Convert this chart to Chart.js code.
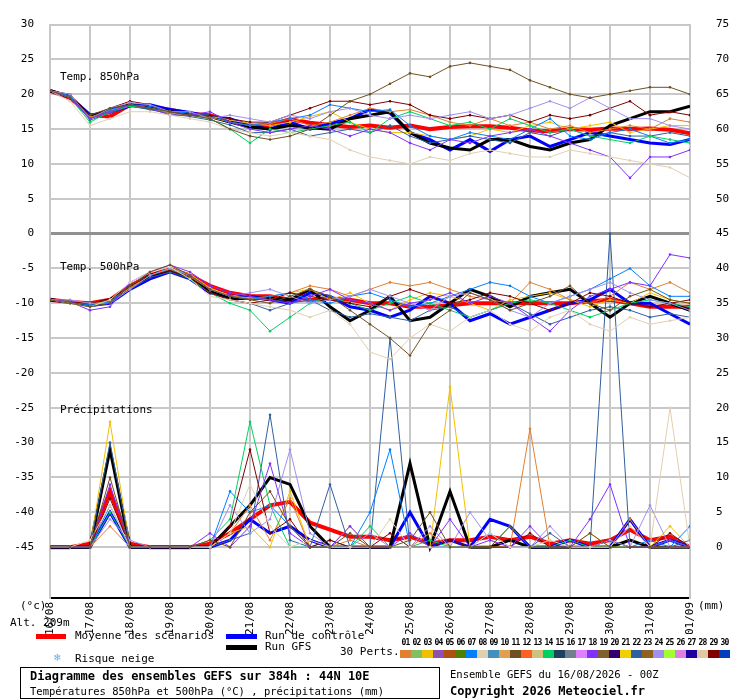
<!DOCTYPE html>
<html><head><meta charset="utf-8">
<script src="https://cdn.jsdelivr.net/npm/chart.js@4"></script>
<style>
body{margin:0;background:#fff;font-family:"DejaVu Sans Mono",monospace;font-size:11px;color:#000}
#wrap{position:relative;width:740px;height:700px}
canvas{position:absolute;left:0;top:0}
.t{position:absolute;white-space:nowrap}
.bar{position:absolute;height:5px}
.sw{display:inline-block;width:11px;height:8px}
.nm{display:inline-block;width:11px;text-align:center;letter-spacing:-0.8px}
</style></head><body>
<div id="wrap">
<canvas id="c" width="740" height="634"></canvas>
<div class="t" style="left:60px;top:70px">Temp. 850hPa</div>
<div class="t" style="left:60px;top:260px">Temp. 500hPa</div>
<div class="t" style="left:60px;top:403px">Précipitations</div>
<div class="t" style="left:20px;top:599px">(°c)</div>
<div class="t" style="left:698px;top:599px">(mm)</div>
<div class="t" style="left:10px;top:616px">Alt. 209m</div>
<div class="bar" style="left:36px;top:634px;width:30px;background:#ff0000"></div>
<div class="t" style="left:75px;top:629px">Moyenne des scénarios</div>
<div class="bar" style="left:226px;top:634px;width:31px;background:#0000ff"></div>
<div class="t" style="left:265px;top:629px">Run de contrôle</div>
<div class="bar" style="left:226px;top:645px;width:31px;background:#000"></div>
<div class="t" style="left:265px;top:640px">Run GFS</div>
<div class="t" style="left:54px;top:651px;color:#60b0f0">❄</div>
<div class="t" style="left:75px;top:652px">Risque neige</div>
<div class="t" style="left:340px;top:645px">30 Perts.</div>
<div class="t" id="nums" style="left:400px;top:638px;font-size:8px;font-weight:bold"></div>
<div class="t" id="sws" style="left:400px;top:650px;font-size:0"></div>
<div class="t" style="left:20px;top:667px;width:418px;height:30px;border:1px solid #000"></div>
<div class="t" style="left:30px;top:669px;font-weight:bold;font-size:12px">Diagramme des ensembles GEFS sur 384h : 44N 10E</div>
<div class="t" style="left:30px;top:685px;font-size:10.5px">Températures 850hPa et 500hPa (°C) , précipitations (mm)</div>
<div class="t" style="left:450px;top:668px;font-size:10.5px">Ensemble GEFS du 16/08/2026 - 00Z</div>
<div class="t" style="left:450px;top:684px;font-weight:bold;font-size:12px">Copyright 2026 Meteociel.fr</div>
</div>
<script>
const dates = ['16/08','17/08','18/08','19/08','20/08','21/08','22/08','23/08','24/08','25/08','26/08','27/08','28/08','29/08','30/08','31/08','01/09'];
const stepHours = 12;
const pertColors = ['#e08030','#80c060','#f0c000','#9050b0','#b05010','#508000','#0080ff','#e0d0b0','#4090c0','#e0a050',
 '#705020','#ff6020','#d0c080','#00d060','#204060','#708090','#e080ff','#8030ff','#806030','#300070',
 '#f0d000','#3060a0','#906020','#a090f0','#a0ff30','#e080e0','#2000a0','#e0c8a0','#800000','#0040c0'];

const mean850 = [20.5,19.5,17,16.8,18.5,18.2,17.8,17.2,17,16.2,15.5,15.6,16.4,15.9,15.6,15.3,15.5,15.2,15.5,15,15.3,15.4,15.4,15.2,14.8,14.7,15,14.9,15.1,15,15.1,14.9,14.4];
const ctrl850 = [20.5,19.6,17,17.5,18.3,18.5,17.8,17.4,16.8,16.5,15.5,15,16,15,15.8,16.5,17.8,17.3,14.5,13.5,12,13.5,11.8,13.5,14,12.5,13.5,14.5,14,13.5,13,12.8,13.5];
const gfs850 = [20.5,19.7,16.8,17.8,18.5,18,17.5,17.2,16.8,16,15.3,15,15.5,15.2,15,16.5,17,17.5,14.5,13,12.3,12,13.5,13.5,12.5,12,13,13.5,15.5,16.5,17.5,17.5,18.3];
const mean500 = [-9.5,-9.8,-10,-9.5,-7.5,-6,-5.1,-6,-7.5,-8.5,-9,-9,-9.5,-9.5,-9.3,-9.5,-10,-10,-10.5,-10.5,-10.3,-10,-10,-10,-10,-10,-10,-9.7,-9.5,-10,-10.5,-10.5,-10.5];
const ctrl500 = [-9.5,-9.8,-10.3,-10,-8,-6.5,-5.5,-6.5,-8.5,-9,-9,-9.5,-10,-8.5,-9,-10.5,-11,-12,-11,-9,-10,-12.5,-11.5,-13,-12,-11,-10,-9.5,-8,-10,-10,-11.5,-13];
const gfs500 = [-9.5,-9.8,-10.2,-9.5,-7.8,-6,-5.3,-6.3,-8.3,-9.3,-9.3,-9.2,-9.5,-8,-10.5,-12.5,-11,-9,-12.5,-12,-10,-8,-9,-10.5,-9,-8.5,-8,-10,-12,-10,-9,-10,-11];
const meanRain = [0,0,0.5,8,0.5,0,0,0,0.5,2,4,6,6.5,3.5,2.5,1.5,1.5,1,1.5,0.5,1,1,1.5,1,1.5,0.5,1,0.5,1,2.5,1,1.5,0];
const ctrlRain = [0,0,0,5,0,0,0,0,0,1,4,2,3,1,0,0,0,0,5,0,1,0,4,3,0,0,1,0,0,4,0,1,0];
const gfsRain = [0,0,0,14,0,0,0,0,0,3,6,10,9,3,0,0,0,0,12,0,8,0,0,1,0,0,0,0,0,1,0,0,0];

// perturbation members: number, 850, 500, rain
const pertIds = [11,8,18,24,29,14,7,1,22,3];
const pert850 = [
 [20.5,19.5,17,18,18.5,18,17.5,17,16.5,15,14,13.5,14,15,17,19,20,21.5,23,22.5,24,24.5,24,23.5,22,21,20,19.5,20,20.5,21,21,20],
 [20.5,19,15.5,16.5,17.5,17.5,17,16.5,16,15,14.5,14,14.5,14,13.5,12,11,10.5,10,11,10.5,11.5,12,11.5,11,11,12,11.5,11,10.5,10,9.5,8],
 [20.5,19.5,16.5,17.5,18.5,18,17,17,17.5,16,15,14.5,15,15.5,15,14,15,14.5,13,12,13.5,13,14,14.5,15,14,13,12,11,8,11,11,12],
 [20.5,20,16.5,18,18.8,18.5,17.5,17.5,16.5,17,16.5,16,17,16.5,17.5,18,17,16.5,17,16.5,17,17.5,16.5,17,18,19,18,19.5,18,16.5,16.5,15.5,15],
 [20.5,20,16.5,18,19,18.5,17.5,17,17,16.5,16,16,17,18,19,19,18.5,19,18.5,17,16.5,17,16.5,17,16,17,16.5,17,18,19,17,17.5,17],
 [20.5,19.5,16,17.5,18.3,18,17.5,17,16.5,15,13,15,14.5,15,15.5,16,14.5,16.5,17.5,16.5,15.5,16,15,16.5,15.5,14.5,15,14,13.5,13,14,13.5,13],
 [20.5,19.8,16.5,17.8,18.5,18.3,17.5,17.3,17,16,15.5,16,16.5,17,18.5,18,17.5,17.8,15.5,14,13.5,14.5,14,13.5,15,16.5,14,13.5,14.5,15,14,13,13.5],
 [20.5,19.5,16.5,17.5,18.5,18,17.3,17,16.7,16,15.5,15.8,16.5,15.5,16,17,18,17.5,17.8,17,16,15.5,16.5,15.5,16,15,15.5,14.5,15,15.5,15,16.5,16],
 [20.5,19.7,16.3,17.3,18.3,17.8,17.2,16.8,16.3,15.6,14.5,14.5,15,14,14.5,15,14.5,15.5,14,13,13.5,14,13.5,13,14.5,14,15,14,14.5,14,14,14.5,14],
 [20.5,19.6,16.7,17.7,18.5,18,17.4,17,17,16.3,15.8,15.5,16,16.8,17.5,16,15,14.5,14.5,14,13.5,14,15,14.5,15.5,16,15,15.5,16,14.5,15,15.5,15.5]
];
const pert500 = [
 [-9.5,-10,-10.5,-10,-7.5,-5.5,-4.5,-6,-8,-9,-9.5,-10,-9,-8,-9,-11,-13,-15,-17.5,-13,-11,-8.5,-9.5,-11,-10,-9,-7.5,-10,-11,-9,-8,-9.5,-10],
 [-9.5,-10,-10.5,-9.5,-7,-5.5,-4.8,-6.5,-9,-9.5,-10,-10.5,-11,-12,-11,-13,-17,-18,-15,-13,-14,-12,-11,-13,-14,-12,-11,-13,-14,-12,-13,-12.5,-12],
 [-9.5,-9.8,-11,-10.5,-7,-5.5,-4.5,-5.5,-7.5,-8.5,-9,-9.5,-10,-9,-8,-9.5,-10,-11,-10,-9.5,-8.5,-10,-9,-10,-12,-14,-11,-9,-8,-7,-7.5,-3,-3.5],
 [-9.5,-9.5,-10,-10,-8,-6,-5,-6,-8,-9,-8.5,-8,-9,-10,-9.5,-9,-8,-9,-10,-11,-9,-8.5,-9.5,-11,-12,-10,-9,-8,-7,-8.5,-9.5,-10,-11],
 [-9.5,-9.8,-10,-9.5,-7.5,-6,-5.3,-6.3,-8.5,-9.5,-10,-9.5,-8.5,-9,-9.5,-10,-10.5,-9,-8,-9,-10,-9.5,-8.5,-9,-10,-11,-10,-8.5,-9,-10,-10.5,-10,-9.5],
 [-9.5,-10,-10.5,-9.5,-7.5,-6,-5,-6.5,-8.5,-10,-11,-14,-12,-10,-9,-10,-11,-10,-9,-10,-11,-12,-11,-10,-9.5,-10,-11,-12,-11,-10,-9.5,-10,-10.5],
 [-9.5,-9.8,-10.2,-9.8,-7.5,-6,-5,-6,-8,-9,-9.5,-9,-8.5,-9.5,-10,-9,-8.5,-9.5,-10.5,-10,-9,-8,-7,-7.5,-9,-10,-9,-8,-6.5,-5,-7.5,-9,-9],
 [-9.5,-9.8,-10,-9.5,-7.8,-6,-5.2,-6.2,-8,-9,-9.3,-9,-8.5,-7.5,-8,-9,-8,-7,-7.5,-7,-8,-9,-9.5,-10,-7,-8,-9.5,-10,-9,-7,-8,-7,-8.5],
 [-9.5,-9.8,-10.3,-10,-8,-6.3,-5.5,-6.5,-8.5,-9.5,-10,-11,-10,-9.5,-11,-12,-11.5,-12,-12.5,-11,-10.5,-12,-11,-10,-11.5,-13,-12,-11,-10.5,-11,-12,-11.5,-12],
 [-9.5,-9.7,-10,-9.8,-7.8,-6,-5,-5.8,-7.8,-9,-9.2,-9.5,-8.5,-8,-9.5,-8.5,-10,-11,-9.5,-8.5,-9,-10,-11,-9.5,-9,-8.5,-9.5,-10.5,-9.5,-10,-8.5,-9.5,-10]
];
const pertRain = [
 [0,0,0,10,0,0,0,0,1,0,5,8,3,0,0,2,0,0,1,5,0,0,0,3,0,0,0,2,0,0,0,0,0],
 [0,0,1,6,0,0,0,0,0,2,9,3,0,1,0,0,0,4,0,0,0,0,2,0,0,1,0,0,0,3,0,20,0],
 [0,0,0,9,0,0,0,0,2,0,3,12,2,0,0,3,0,0,2,0,4,0,1,0,3,0,0,4,9,0,0,1,0],
 [0,0,0,4,1,0,0,0,0,6,2,4,14,2,0,0,2,0,0,3,0,5,1,0,0,3,0,0,1,0,6,0,0],
 [0,0,0,7,0,0,0,0,0,3,14,2,4,0,1,0,0,2,0,0,1,0,0,0,2,0,0,0,1,0,0,2,0],
 [0,0,0,5,0,0,0,0,1,4,18,6,0,0,0,0,3,0,0,1,0,0,0,3,0,0,1,0,0,0,0,1,0],
 [0,0,0,6,0,0,0,0,0,8,5,6,3,0,1,0,5,14,0,0,0,0,2,0,0,0,0,0,1,0,1,0,3],
 [0,0,0,3,0,0,0,0,0,2,6,1,7,0,0,1,0,0,0,2,0,0,0,0,17,0,0,0,0,4,0,0,0],
 [0,0,0,15,0,0,0,0,0,1,2,19,1,0,9,0,0,30,0,0,0,0,0,0,0,2,0,0,45,0,0,0,1],
 [0,0,0,18,0,0,0,0,0,2,3,0,8,0,0,3,0,0,0,0,23,0,0,0,0,0,0,2,0,0,0,3,0]
];

// precipitation shares the left scale: 0 mm sits at -45
const RAIN_BASE = -45;
const pts = (arr, off = 0) => arr.map((v, i) => ({ x: i * stepHours, y: v + off }));

function line(data, color, width, dots) {
    return { data, borderColor: color, backgroundColor: color, borderWidth: width,
        pointRadius: dots ? 1.3 : 0, pointBorderWidth: 0, tension: 0, fill: false };
}

const datasets = [];
pertIds.forEach((id, k) => {
    const col = pertColors[id - 1];
    datasets.push(line(pts(pert850[k]), col, 1, true));
    datasets.push(line(pts(pert500[k]), col, 1, true));
    datasets.push(line(pts(pertRain[k], RAIN_BASE), col, 1, true));
});
[[gfs850, gfs500, gfsRain, '#000000', 3], [ctrl850, ctrl500, ctrlRain, '#0000ff', 3], [mean850, mean500, meanRain, '#ff0000', 4]]
    .forEach(([a, b, r, col, w]) => {
        datasets.push(line(pts(a), col, w, false));
        datasets.push(line(pts(b), col, w, false));
        datasets.push(line(pts(r, RAIN_BASE), col, w, false));
    });

const yTicks = [];
for (let v = 30; v >= -45; v -= 5) yTicks.push(v);
const tickFont = { family: 'DejaVu Sans Mono', size: 11 };

new Chart(document.getElementById('c'), {
    type: 'line',
    data: { datasets },
    options: {
        responsive: false, animation: false,
        layout: { padding: { top: 22, right: 0, left: 0, bottom: 0 } },
        plugins: { legend: { display: false }, tooltip: { enabled: false } },
        scales: {
            x: {
                type: 'linear', min: 0, max: 384,
                afterBuildTicks: s => { s.ticks = dates.map((d, i) => ({ value: i * 24 })); },
                afterFit: s => { s.height = 36; },
                ticks: { color: '#000', font: tickFont, minRotation: 90, maxRotation: 90, padding: 4,
                    callback: (v) => dates[Math.round(v / 24)] },
                grid: { color: '#c8c8c8', lineWidth: 2, drawTicks: false },
                border: { color: '#000', width: 2 }
            },
            y: {
                min: -52.3, max: 30,
                afterBuildTicks: s => { s.ticks = yTicks.map(v => ({ value: v })); },
                afterFit: s => { s.width = 50; },
                ticks: { color: '#000', font: tickFont, padding: 16 },
                grid: { drawTicks: false, color: c => c.tick && c.tick.value === 0 ? '#909090' : '#c8c8c8',
                    lineWidth: c => c.tick && c.tick.value === 0 ? 3 : 2 },
                border: { color: '#c8c8c8', width: 2 }
            },
            y2: {
                position: 'right', min: -52.3, max: 30,
                afterBuildTicks: s => { s.ticks = yTicks.map(v => ({ value: v })); },
                afterFit: s => { s.width = 50; },
                ticks: { color: '#000', font: tickFont, padding: 18, callback: v => v + 45 },
                grid: { display: false },
                border: { color: '#c8c8c8', width: 2 }
            }
        }
    }
});

document.getElementById('nums').innerHTML = pertColors.map((c, i) => `<span class="nm">${String(i + 1).padStart(2, '0')}</span>`).join('');
document.getElementById('sws').innerHTML = pertColors.map(c => `<span class="sw" style="background:${c}"></span>`).join('');
</script>
</body></html>
